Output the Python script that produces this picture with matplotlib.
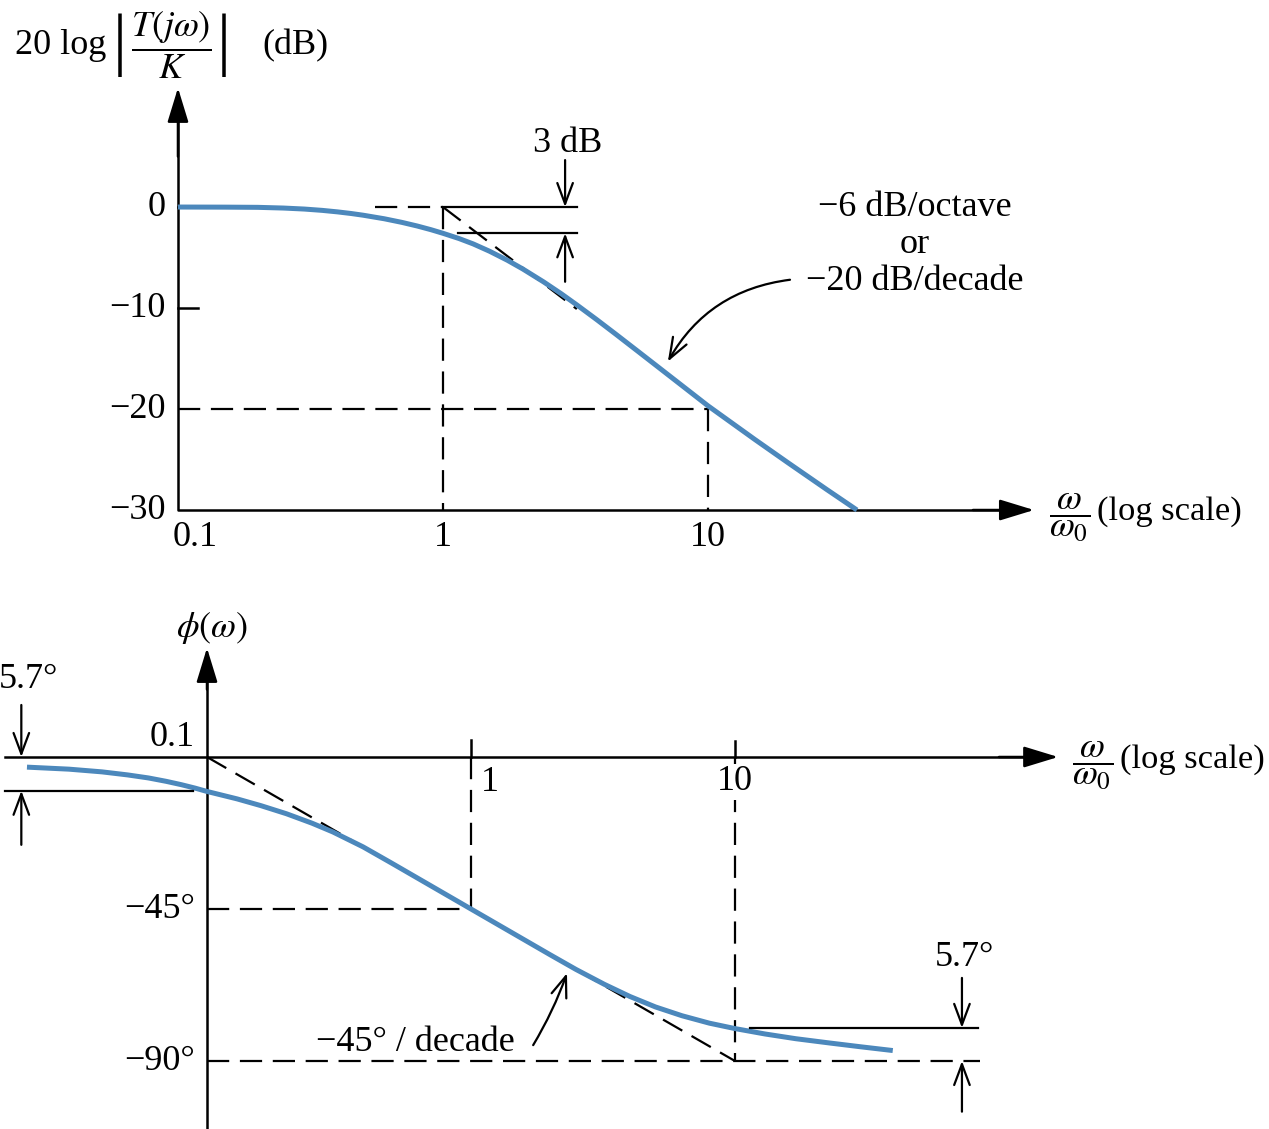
import numpy as np
import matplotlib
matplotlib.use("Agg")
from matplotlib import pyplot as plt

plt.rcParams['font.family'] = ['Liberation Serif', 'DejaVu Serif']
plt.rcParams['mathtext.fontset'] = 'stix'
plt.rcParams['font.size'] = 26

# magnitude curve (w/w0, dB)
mag_w = [0.1, 0.15, 0.2, 0.25, 0.3, 0.35, 0.4, 0.45, 0.5, 0.6, 0.7, 0.8, 0.9, 1.0,
         1.15, 1.3, 1.5, 1.75, 2.0, 2.4, 2.8, 3.2, 3.8, 4.5, 5.5, 6.5, 8.0, 10, 15, 20, 28, 36.5]
mag_db = [0.0, -0.01, -0.03, -0.1, -0.2, -0.33, -0.48, -0.64, -0.81, -1.16, -1.52, -1.88, -2.24, -2.6,
          -3.12, -3.65, -4.38, -5.27, -6.13, -7.42, -8.6, -9.69, -11.14, -12.61, -14.38, -15.86, -17.7,
          -19.68, -23.0, -25.3, -27.95, -30.0]

# phase curve (w/w0, degrees)
phase_w = [0.0208, 0.03, 0.04, 0.05, 0.06, 0.07, 0.08, 0.09, 0.1, 0.13, 0.16, 0.2, 0.25, 0.3, 0.39,
           0.5, 0.7, 1.0, 1.4, 2.0, 2.5, 3.2, 4.0, 5.0, 6.3, 8.0, 10, 13, 17, 23, 30, 39.6]
phase_deg = [-3.0, -3.6, -4.4, -5.3, -6.2, -7.2, -8.2, -9.2, -10.2, -12.4, -14.4, -16.8, -19.6, -22.2,
             -26.6, -31.4, -38.0, -45.0, -51.6, -58.6, -62.9, -67.3, -70.9, -74.0, -76.6, -78.8, -80.4,
             -82.0, -83.4, -84.7, -85.8, -86.9]

mag_ticks = [0, -10, -20, -30]
mag_tick_labels = ['0', '\u221210', '\u221220', '\u221230']
freq_ticks = [0.1, 1, 10]
freq_tick_labels = ['0.1', '1', '10']
phase_ticks = [-45, -90]
phase_tick_labels = ['\u221245\u00b0', '\u221290\u00b0']

# straight-line asymptotes
mag_asym_w = [1, 3.2]
mag_asym_db = [0, -10.1]
phase_asym_w = [0.1, 1, 10]
phase_asym_deg = [0, -45, -90]

three_db_level = -2.6      # lower 3 dB marker, as drawn
phase_low_mark = -10.0     # left 5.7 deg marker, as drawn
phase_high_mark = -80.2    # right 5.7 deg marker, as drawn

blue = '#4c88bc'
W, H = 1269, 1129
fig = plt.figure(figsize=(W / 100, H / 100), dpi=100)

axis_arrow = dict(arrowstyle='-|>,head_length=0.85,head_width=0.26', color='k', lw=1.8,
                  shrinkA=0, shrinkB=0, mutation_scale=25)
marker = dict(arrowstyle='->,head_length=0.75,head_width=0.28', color='k', lw=1.6,
              shrinkA=0, shrinkB=0, mutation_scale=20)
dash = dict(color='k', lw=1.6, dashes=(10, 4.8), clip_on=False)
solid = dict(color='k', lw=1.6, clip_on=False)

################################################################################
# magnitude plot

top = fig.add_axes([0, 1 - 590 / H, 1, 590 / H])
top.set_xscale('log')
top.set_xlim(0.0213, 1310)
top.set_ylim(-37.92, 20.5)
top.axis('off')

top.plot([0.1, 0.1, 150], [11, -30, -30], color='k', lw=1.8, clip_on=False)
top.annotate('', xy=(0.1, 11.8), xytext=(0.1, 5), arrowprops=axis_arrow)
top.annotate('', xy=(170, -30), xytext=(100, -30), arrowprops=axis_arrow)
for t in mag_ticks[:2]:
    top.plot([0.1, 0.119], [t, t], color='k', lw=1.8)
for t, lab in zip(mag_ticks, mag_tick_labels):
    top.text(0.0901, t, lab, ha='right', va='center')
for t, lab in zip(freq_ticks, freq_tick_labels):
    xt = 0.116 if t == 0.1 else t
    top.text(xt, -32.7, lab, ha='center', va='center')

top.plot([0.553, 1], [0, 0], **dash)
top.plot([1, 1], [0, -30], **dash)
top.plot(mag_asym_w, mag_asym_db, **dash)
top.plot([0.1, 10], [-20, -20], **dash)
top.plot([10, 10], [-20, -30], **dash)

top.plot(mag_w, mag_db, color=blue, lw=3.6, solid_capstyle='butt', clip_on=False)

top.plot([1, 3.2], [0, 0], **solid)
top.plot([1.14, 3.2], [three_db_level, three_db_level], **solid)
top.annotate('', xy=(2.89, 0), xytext=(2.89, 4.65), arrowprops=marker)
top.annotate('', xy=(2.89, three_db_level), xytext=(2.89, -7.4), arrowprops=marker)
top.text(2.96, 6.3, '3 dB', ha='center', va='center')

top.text(60.2, -3.7, '\u22126 dB/octave\nor\n\u221220 dB/decade', ha='center', va='center',
         multialignment='center', linespacing=1.15)
top.annotate('', xy=(7.06, -15.3), xytext=(20.4, -7.2),
             arrowprops=dict(marker, connectionstyle='arc3,rad=0.25'))

# y label: 20 log |T(jw)/K| (dB)
top.text(0.0242, 16.0, '20 log', ha='left', va='center')
top.text(0.0604, 16.0, '|', ha='center', va='center', fontsize=50)
top.text(0.0949, 16.0, r'$\dfrac{T(j\omega)}{K}$', ha='center', va='center')
top.text(0.149, 16.0, '|', ha='center', va='center', fontsize=50)
top.text(0.209, 16.0, '(dB)', ha='left', va='center')

top.text(232, -30.7, r'$\dfrac{\omega}{\omega_0}$', ha='center', va='center')
top.text(294, -30.2, '(log scale)', ha='left', va='center', fontsize=24.8)

################################################################################
# phase plot

bot = fig.add_axes([0, 0, 1, 539 / H])
bot.set_xscale('log')
bot.set_xlim(0.01644, 1054)
bot.set_ylim(-110.13, 49.44)
bot.axis('off')

bot.plot([0.0172, 150], [0, 0], color='k', lw=1.8, clip_on=False)
bot.plot([0.1, 0.1], [-110.1, 30], color='k', lw=1.8, clip_on=False)
bot.annotate('', xy=(0.1, 32.3), xytext=(0.1, 20), arrowprops=axis_arrow)
bot.annotate('', xy=(167.6, 0), xytext=(100, 0), arrowprops=axis_arrow)
bot.plot([1, 1], [0, 5.0], color='k', lw=1.8)
bot.plot([10, 10], [0, 4.7], color='k', lw=1.8)

bot.plot(phase_asym_w, phase_asym_deg, **dash)
bot.plot([1, 1], [0, -45], **dash)
bot.plot([10, 10], [0, -90], **dash)
bot.plot([0.1, 1], [-45, -45], **dash)
bot.plot([0.1, 85], [-90, -90], **dash)

bot.plot(phase_w, phase_deg, color=blue, lw=3.6, solid_capstyle='butt', clip_on=False)

bot.text(0.090, 5.9, freq_tick_labels[0], ha='right', va='center')
bot.text(1.18, -7.5, freq_tick_labels[1], ha='center', va='center')
bot.text(10, -7.4, freq_tick_labels[2], ha='center', va='center',
         bbox=dict(facecolor='white', edgecolor='none', pad=1))
for t, lab in zip(phase_ticks, phase_tick_labels):
    bot.text(0.090, t, lab, ha='right', va='center')

# 5.7 degree markers
bot.plot([0.0172, 0.0885], [phase_low_mark, phase_low_mark], **solid)
bot.annotate('', xy=(0.0198, 0), xytext=(0.0198, 15.4), arrowprops=marker)
bot.annotate('', xy=(0.0198, phase_low_mark), xytext=(0.0198, -26), arrowprops=marker)
bot.text(0.021, 22.8, '5.7\u00b0', ha='center', va='center')

bot.plot([11.4, 83.6], [phase_high_mark, phase_high_mark], **solid)
bot.annotate('', xy=(72.4, phase_high_mark), xytext=(72.4, -65.4), arrowprops=marker)
bot.annotate('', xy=(72.4, -90), xytext=(72.4, -105), arrowprops=marker)
bot.text(74.2, -59.5, '5.7\u00b0', ha='center', va='center')

bot.text(0.614, -84.4, '\u221245\u00b0 / decade', ha='center', va='center')
bot.annotate('', xy=(2.31, -64.0), xytext=(1.72, -85.3),
             arrowprops=dict(marker, connectionstyle='arc3,rad=0.05'))

bot.text(0.1045, 38.2, r'$\phi(\omega)$', ha='center', va='center')
bot.text(227, -2.4, r'$\dfrac{\omega}{\omega_0}$', ha='center', va='center')
bot.text(287, -0.9, '(log scale)', ha='left', va='center', fontsize=24.8)

fig.savefig('out.png', dpi=100, facecolor='white')
